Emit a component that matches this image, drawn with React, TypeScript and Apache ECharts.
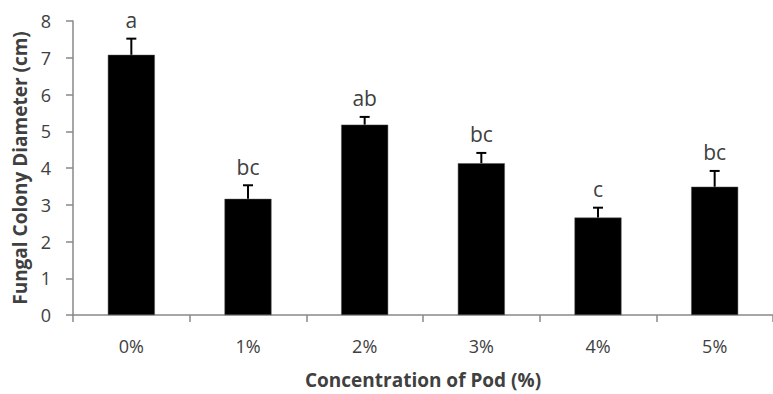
import React, { useEffect, useRef } from "react";
import * as echarts from "echarts";

const categories = ["0%", "1%", "2%", "3%", "4%", "5%"];
const means = [7.08, 3.16, 5.18, 4.13, 2.65, 3.49];
const errors = [0.44, 0.37, 0.21, 0.28, 0.27, 0.43];
const letters = ["a", "bc", "ab", "bc", "c", "bc"];
const yTicks = [0, 1, 2, 3, 4, 5, 6, 7, 8];

const FONT = "'Open Sans', 'Noto Sans', sans-serif";
const TEXT = "#404040";
const AXIS = "#898989";

export default function App() {
  const ref = useRef<HTMLDivElement>(null);
  useEffect(() => {
    if (!ref.current) return;
    const chart = echarts.init(ref.current, null, { renderer: "svg" });
    const errData = means.map((m, i) => [i, m, errors[i]]);
    chart.setOption({
      animation: false,
      backgroundColor: "#ffffff",
      grid: { left: 73, right: -10, top: 21, bottom: 78, containLabel: false },
      xAxis: {
        type: "category",
        data: categories,
        name: "Concentration of Pod (%)",
        nameLocation: "middle",
        nameGap: 55,
        nameTextStyle: { fontFamily: FONT, fontWeight: "bold", fontSize: 19, color: TEXT },
        axisLine: { show: true, lineStyle: { color: AXIS, width: 1.5 } },
        axisTick: { show: true, length: 7, lineStyle: { color: AXIS, width: 1.5 } },
        axisLabel: { fontFamily: FONT, fontSize: 18, color: TEXT, margin: 22 },
        splitLine: { show: false },
      },
      yAxis: {
        type: "value",
        min: yTicks[0],
        max: yTicks[yTicks.length - 1],
        interval: 1,
        name: "Fungal Colony Diameter (cm)",
        nameLocation: "middle",
        nameGap: 42,
        nameTextStyle: { fontFamily: FONT, fontWeight: "bold", fontSize: 19, color: TEXT },
        axisLine: { show: true, lineStyle: { color: AXIS, width: 1.5 } },
        axisTick: { show: true, length: 7, lineStyle: { color: AXIS, width: 1.5 } },
        axisLabel: { fontFamily: FONT, fontSize: 18, color: TEXT, margin: 22 },
        splitLine: { show: false },
      },
      series: [
        {
          type: "bar",
          data: means,
          barWidth: 47,
          itemStyle: { color: "#000000", borderColor: "#555", borderWidth: 0.5 },
          z: 2,
        },
        {
          type: "custom",
          data: errData,
          z: 3,
          renderItem: (params: any, api: any) => {
            const i = api.value(0);
            const m = api.value(1);
            const e = api.value(2);
            const lab = letters[params.dataIndex];
            const base = api.coord([i, m]);
            const top = api.coord([i, m + e]);
            const cap = 5;
            return {
              type: "group",
              children: [
                {
                  type: "line",
                  shape: { x1: base[0], y1: base[1], x2: top[0], y2: top[1] },
                  style: { stroke: "#000", lineWidth: 2 },
                },
                {
                  type: "line",
                  shape: { x1: top[0] - cap, y1: top[1], x2: top[0] + cap, y2: top[1] },
                  style: { stroke: "#000", lineWidth: 2 },
                },
                {
                  type: "text",
                  x: top[0],
                  y: top[1] - 18.5,
                  style: {
                    text: lab,
                    fontFamily: FONT,
                    fontSize: 21,
                    fill: TEXT,
                    align: "center",
                    verticalAlign: "middle",
                  },
                },
              ],
            };
          },
        },
      ],
    });
    return () => chart.dispose();
  }, []);
  return (
    <div
      ref={ref}
      style={{ position: "fixed", left: 0, top: 0, width: 773, height: 394, background: "#fff" }}
    />
  );
}
